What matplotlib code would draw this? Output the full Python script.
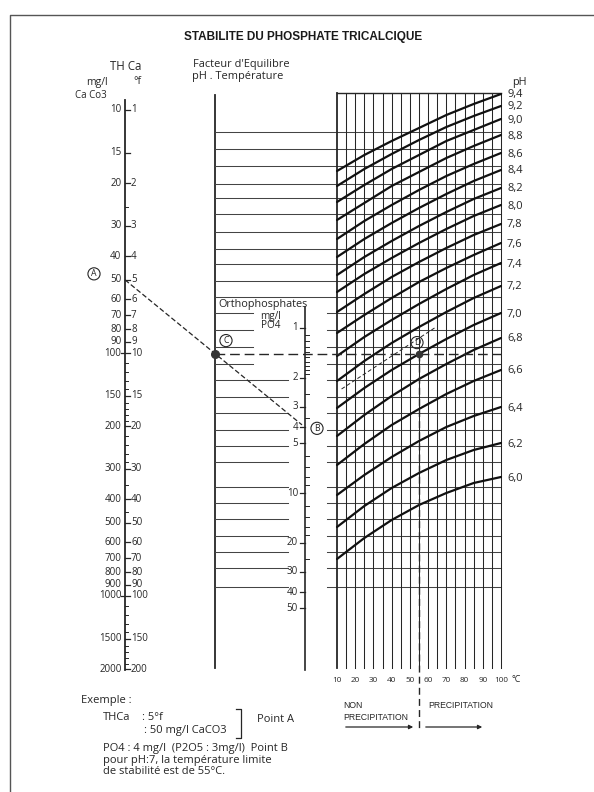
import numpy as np
import matplotlib
matplotlib.use("Agg")
import matplotlib.pyplot as plt

# ---------------- data ----------------
# THCa scale (mg/l CaCO3, left labels) and French degrees (right labels)
thca_mg_major = [10, 15, 20, 30, 40, 50, 60, 70, 80, 90, 100, 150, 200, 300,
                 400, 500, 600, 700, 800, 900, 1000, 1500, 2000]
thca_f_labels = ['1', '', '2', '3', '4', '5', '6', '7', '8', '9', '10', '15', '20',
                 '30', '40', '50', '60', '70', '80', '90', '100', '150', '200']
thca_mg_minor = [25, 110, 120, 130, 140, 160, 170, 180, 190, 220, 240, 260, 280,
                 350, 450, 1100, 1200, 1300, 1400, 1600, 1700, 1800, 1900]

# Orthophosphates scale (mg/l PO4)
po4_major = [1, 2, 3, 4, 5, 10, 20, 30, 40, 50]
po4_minor = [1.1, 1.2, 1.3, 1.4, 1.5, 1.6, 1.7, 1.8, 1.9, 2.5, 3.5, 6, 7, 8, 9,
             12, 14, 16, 18, 25]

# temperature axis of the pH grid
temp_labels = [10, 20, 30, 40, 50, 60, 70, 80, 90, 100]
temp_grid = [10, 15, 20, 25, 30, 35, 40, 45, 50, 55, 60, 65, 70, 75, 80, 85, 90, 95, 100]

# equilibrium factor levels (nomogram units, increasing downward)
factor_lines = [132, 149, 166, 184, 198, 214, 232, 249, 264, 281, 297, 313, 330,
                347, 364, 380, 397, 413, 430, 446, 462, 487, 503, 519, 536, 552,
                568, 587]

# pH curves: equilibrium factor level read at each temperature
curve_temps = [10, 25, 40, 55, 70, 85, 100]
ph_labels = ['9,4', '9,2', '9,0', '8,8', '8,6', '8,4', '8,2', '8,0', '7,8',
             '7,6', '7,4', '7,2', '7,0', '6,8', '6,6', '6,4', '6,2', '6,0']
ph_curves = [
    [171, 155, 141, 128, 115, 104, 94],
    [186, 169, 154, 140, 127, 116, 106],
    [202, 185, 169, 155, 141, 130, 119],
    [220, 203, 186, 172, 158, 146, 135],
    [239, 221, 205, 190, 176, 164, 153],
    [257, 239, 223, 208, 194, 181, 170],
    [275, 257, 241, 226, 212, 199, 188],
    [292, 274, 258, 243, 229, 216, 205],
    [312, 294, 277, 262, 248, 235, 224],
    [333, 315, 298, 282, 268, 255, 243],
    [356, 337, 320, 304, 289, 275, 263],
    [381, 361, 343, 327, 312, 298, 286],
    [408, 388, 370, 354, 339, 325, 313],
    [436, 415, 396, 379, 364, 350, 338],
    [465, 444, 425, 409, 394, 381, 370],
    [495, 475, 457, 441, 427, 416, 407],
    [527, 506, 488, 473, 460, 450, 443],
    [559, 538, 520, 505, 493, 483, 477],
]

# worked example
example_thca = 50      # mg/l CaCO3 (5 °f)  -> point A
example_po4 = 4        # mg/l PO4           -> point B
example_temp = 55      # °C limit
interp_temps = [12.5, 63.5]     # short dashed interpolated curve
interp_levels = [389, 328]

# ---------------- layout ----------------
INK = '#262626'
THCA_X, THCA_Y10, THCA_DEC = 125, 110, 243
MID_X = 215
PO4_X, PO4_Y1, PO4_DEC = 305, 328, 165
GX0, GX1, GTOP, GBOT = 337, 501, 93, 668
HAND = ['Open Sans', 'DejaVu Sans']
PRINT = ['Liberation Sans', 'DejaVu Sans']


def y_thca(v):
    return THCA_Y10 + THCA_DEC * (np.log10(v) - 1)


def y_po4(v):
    return PO4_Y1 + PO4_DEC * np.log10(v)


def x_temp(t):
    return GX0 + (np.asarray(t, dtype=float) - 10) * (GX1 - GX0) / 90.0


fig = plt.figure(figsize=(5.94, 7.92), dpi=100)
fig.patch.set_facecolor('white')
ax = fig.add_axes([0, 0, 1, 1])
ax.set_xlim(0, 594)
ax.set_ylim(792, 0)
ax.axis('off')

# page frame
ax.plot([10, 10, 594], [792, 15, 15], color='#555555', lw=1.0)

# title
ax.text(303, 37, 'STABILITE DU PHOSPHATE TRICALCIQUE', ha='center', va='center',
        fontsize=8.5, fontweight='bold', family=PRINT, color='#1a1a1a')

# ---------- THCa scale ----------
ax.plot([THCA_X, THCA_X], [100, y_thca(2000) + 1], color=INK, lw=1.3)
for v, fl in zip(thca_mg_major, thca_f_labels):
    y = y_thca(v)
    x0 = THCA_X - 4 if v in (100, 1000) else THCA_X
    ax.plot([x0, THCA_X + 5], [y, y], color=INK, lw=0.9)
    ax.text(THCA_X - 3.5, y, str(v), ha='right', va='center', fontsize=7.0,
            family=HAND, color=INK, fontweight='medium')
    if fl:
        ax.text(THCA_X + 6, y, fl, ha='left', va='center', fontsize=7.0,
                family=HAND, color=INK, fontweight='medium')
for v in thca_mg_minor:
    y = y_thca(v)
    ax.plot([THCA_X, THCA_X + 3], [y, y], color=INK, lw=0.7)

ax.text(126, 67, 'TH Ca', ha='center', va='center', fontsize=8.3, family=HAND, color=INK)
ax.text(97, 82, 'mg/l', ha='center', va='center', fontsize=7.5, family=HAND, color=INK)
ax.text(137, 81, '°f', ha='center', va='center', fontsize=7.5, family=HAND, color=INK)
ax.text(91, 95, 'Ca Co3', ha='center', va='center', fontsize=7.0, family=HAND, color=INK)

# ---------- middle (equilibrium factor) scale ----------
ax.plot([MID_X, MID_X], [95, GBOT], color=INK, lw=1.3)
ax.text(193, 65, "Facteur d'Equilibre", ha='left', va='center', fontsize=7.9,
        family=HAND, color=INK)
ax.text(192, 77, 'pH . Température', ha='left', va='center', fontsize=7.9,
        family=HAND, color=INK)

LINE = '#444444'
for lv in factor_lines:
    if lv < 305:
        ax.plot([MID_X, GX1], [lv, lv], color=LINE, lw=0.75)
    else:
        xr = 253 if lv < 370 else 288
        ax.plot([MID_X, xr], [lv, lv], color=LINE, lw=0.75)
        ax.plot([327, GX1], [lv, lv], color=LINE, lw=0.75)

# ---------- PO4 scale ----------
ax.plot([PO4_X, PO4_X], [307, 670], color=INK, lw=1.2)
for v in po4_major:
    y = y_po4(v)
    ax.plot([PO4_X - 5, PO4_X], [y, y], color=INK, lw=0.9)
    ax.text(PO4_X - 7, y, str(v), ha='right', va='center', fontsize=7.0,
            family=HAND, color=INK, fontweight='medium')
for v in po4_minor:
    y = y_po4(v)
    ax.plot([PO4_X, PO4_X + 3.5], [y, y], color=INK, lw=0.7)
ax.text(218, 304, 'Orthophosphates', ha='left', va='center', fontsize=7.8,
        family=HAND, color=INK)
ax.text(271, 316, 'mg/l', ha='center', va='center', fontsize=7.2, family=HAND, color=INK)
ax.text(271, 326, 'PO4', ha='center', va='center', fontsize=7.2, family=HAND, color=INK)

# ---------- pH / temperature grid ----------
for t in temp_grid:
    lw = 1.3 if t == 10 else 0.75
    ax.plot([x_temp(t), x_temp(t)], [GTOP, GBOT], color=INK, lw=lw)
ax.plot([GX0, GX1], [GTOP, GTOP], color=INK, lw=1.0)
for t in temp_labels:
    ax.text(x_temp(t), 681, str(t), ha='center', va='center', fontsize=5.9,
            family=HAND, color=INK)
ax.text(x_temp(100) + 10, 680, '°C', ha='left', va='center', fontsize=6.5,
        family=HAND, color=INK)
ax.text(519, 83, 'pH', ha='center', va='center', fontsize=7.8, family=HAND, color=INK)

for lab, levels in zip(ph_labels, ph_curves):
    ax.plot(x_temp(curve_temps), levels, color='#111111', lw=1.6,
            solid_capstyle='round', solid_joinstyle='round')
    ax.text(GX1 + 6, levels[-1] + 1, lab, ha='left', va='center', fontsize=8.0,
            family=HAND, color=INK)

# ---------- worked example construction ----------
yA = y_thca(example_thca)
yB = y_po4(example_po4)
yC = yA + (yB - yA) * (MID_X - THCA_X) / (PO4_X - THCA_X)
ax.plot([THCA_X, PO4_X - 3], [yA, yA + (yB - yA) * (PO4_X - 3 - THCA_X) / (PO4_X - THCA_X)],
        color=INK, lw=0.9, dashes=(4, 2))
ax.plot([MID_X, GX1], [yC, yC], color=INK, lw=1.0, dashes=(7, 3.5))
xD = x_temp(example_temp)
ax.plot([xD, xD], [yC, 731], color=INK, lw=1.0, dashes=(5, 3))
ax.plot(x_temp(interp_temps), interp_levels, color=INK, lw=0.7, dashes=(4, 2.5))
ax.plot([MID_X], [yC], 'o', color='#333333', ms=5.5)
ax.plot([xD], [yC], 'o', color='#333333', ms=4.5)

circ = dict(boxstyle='circle,pad=0.18', fc='white', ec=INK, lw=0.8)
ax.text(94, yA - 6, 'A', ha='center', va='center', fontsize=6.3, family=HAND,
        color=INK, bbox=circ)
ax.text(226, yC - 13, 'C', ha='center', va='center', fontsize=6.3, family=HAND,
        color=INK, bbox=circ)
ax.text(317, yB + 1, 'B', ha='center', va='center', fontsize=6.3, family=HAND,
        color=INK, bbox=circ)
ax.text(xD - 2, yC - 11, 'D', ha='center', va='center', fontsize=6.3, family=HAND,
        color=INK, bbox=dict(boxstyle='circle,pad=0.18', fc='none', ec=INK, lw=0.8))

# ---------- precipitation zones ----------
ax.text(343, 705, 'NON', ha='left', va='center', fontsize=6.2, family=PRINT, color=INK)
ax.text(343, 717, 'PRECIPITATION', ha='left', va='center', fontsize=6.2,
        family=PRINT, color=INK)
ax.text(428, 706, 'PRECIPITATION', ha='left', va='center', fontsize=6.2,
        family=PRINT, color=INK)
ax.annotate('', xy=(416, 727), xytext=(343, 727),
            arrowprops=dict(arrowstyle='-|>', color=INK, lw=0.9, mutation_scale=6))
ax.annotate('', xy=(485, 727), xytext=(423, 727),
            arrowprops=dict(arrowstyle='-|>', color=INK, lw=0.9, mutation_scale=6))

# ---------- example text ----------
tx = dict(ha='left', va='center', fontsize=8.0, family=HAND, color=INK)
ax.text(81, 700, 'Exemple :', **tx)
ax.text(103, 718, 'THCa', **tx)
ax.text(142, 718, ': 5°f', **tx)
ax.text(144, 730, ': 50 mg/l CaCO3', **tx)
ax.plot([236, 241, 241, 236], [709, 709, 738, 738], color=INK, lw=0.9)
ax.text(257, 720, 'Point A', **tx)
ax.text(103, 749, 'PO4 : 4 mg/l  (P2O5 : 3mg/l)  Point B', **tx)
ax.text(103, 761, 'pour pH:7, la température limite', **tx)
ax.text(103, 772, 'de stabilité est de 55°C.', **tx)

fig.savefig('out.png', dpi=100, facecolor='white')
